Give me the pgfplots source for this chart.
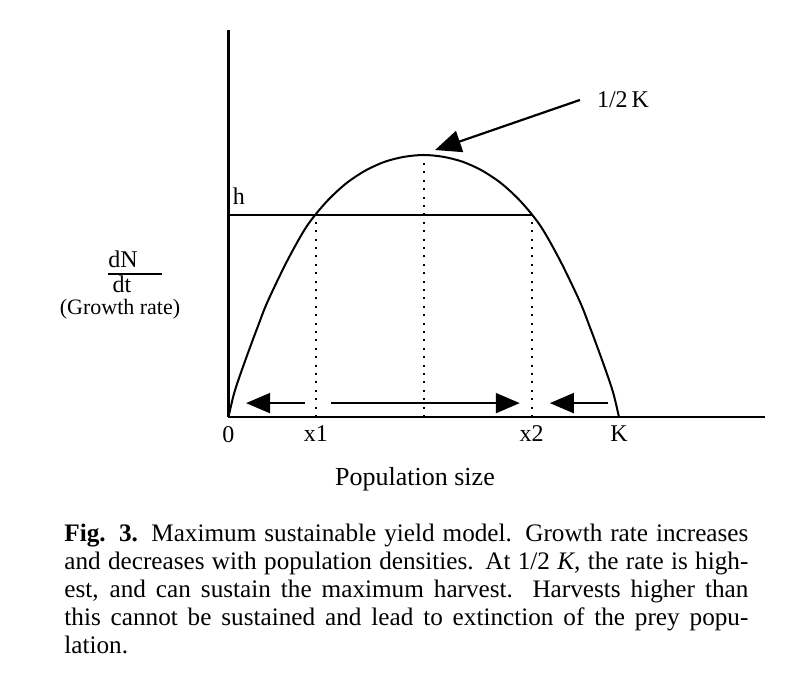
\documentclass[border=0pt]{standalone}
\usepackage{fontspec}
\setmainfont{Liberation Serif}
\usepackage{pgfplots}
\pgfplotsset{compat=1.18}
\usetikzlibrary{arrows.meta}

\begin{document}
\begin{tikzpicture}
\begin{axis}[
  at={(0,0)}, anchor=south west,
  scale only axis, width=268.25pt, height=193.5pt,
  xmin=0, xmax=137.4, ymin=0, ymax=147.7,
  axis x line=bottom, axis y line=left,
  axis line style={-, line width=1.2pt},
  ytick=\empty,
  xtick={0,22.36,77.64,100}, xticklabels={0,x1,x2,K},
  major tick length=0pt,
  xticklabel style={font=\fontsize{12}{14}\selectfont, yshift=-1pt},
  clip=false,
]
% growth curve
\addplot[line width=1pt, smooth, tension=0.5] coordinates {
 (0,0) (1.25,8) (2.5,14) (5,24.5) (7.5,34.5) (10,44) (15,59.5)
 (20,72.7) (25,82) (30,89) (35,94) (40,97.4) (45,99.3) (50,100)
 (55,99.3) (60,97.4) (65,94) (70,89) (75,82) (80,72.7) (85,59.5)
 (90,44) (92.5,34.5) (95,24.5) (97.5,14) (98.75,8) (100,0)};
% harvest line h
\addplot[line width=1pt] coordinates {(0,77.1) (77.64,77.1)};
% dotted verticals
\addplot[line width=1pt, dash pattern=on 1pt off 3.2pt] coordinates {(22.36,0) (22.36,77.1)};
\addplot[line width=1pt, dash pattern=on 1pt off 3.2pt] coordinates {(50,0) (50,98)};
\addplot[line width=1pt, dash pattern=on 1pt off 3.2pt] coordinates {(77.64,0) (77.64,77.1)};
% direction arrows
\addplot[line width=1pt, -{Triangle[length=12pt,width=10pt]}] coordinates {(19.6,5.3) (4.5,5.3)};
\addplot[line width=1pt, -{Triangle[length=12pt,width=10pt]}] coordinates {(26.2,5.3) (74.6,5.3)};
\addplot[line width=1pt, -{Triangle[length=12pt,width=10pt]}] coordinates {(97.2,5.3) (82.3,5.3)};
% 1/2 K pointer
\addplot[line width=1.1pt, -{Triangle[length=13pt,width=11pt]}] coordinates {(90.0,121.0) (52.9,101.9)};
\end{axis}
\begin{scope}[x=0.5pt,y=-0.5pt,shift={(-228.5,-417)}]
\node[font=\fontsize{12}{14}\selectfont] at (239,196) {h};
\node[font=\fontsize{12}{14}\selectfont, anchor=west] at (590,100) {1/2\,K};
\node[font=\fontsize{12}{14}\selectfont] at (123,259.5) {dN};
\draw[line width=0.6pt] (108,274) -- (162,274);
\node[font=\fontsize{12}{14}\selectfont] at (122,284) {dt};
\node[font=\fontsize{11}{13}\selectfont] at (120,309.5) {(Growth rate)};
\node[font=\fontsize{13}{15}\selectfont] at (415,479) {Population size};
\node[anchor=base west, inner sep=0pt, align=left,
      font=\fontsize{12.6}{13.9}\selectfont] at (64,653) {%
\spaceskip=0.25em plus 0.3em minus 0.1em
\makebox[342pt][s]{\textbf{Fig. 3.} Maximum sustainable yield model. Growth rate increases}\\
\makebox[342pt][s]{and decreases with population densities. At 1/2 \textit{K,} the rate is high-}\\
\makebox[342pt][s]{est, and can sustain the maximum harvest. Harvests higher than}\\
\makebox[342pt][s]{this cannot be sustained and lead to extinction of the prey popu-}\\
lation.};
\pgfresetboundingbox
\path[use as bounding box] (0,0) rectangle (800,681);
\end{scope}
\end{tikzpicture}
\end{document}
